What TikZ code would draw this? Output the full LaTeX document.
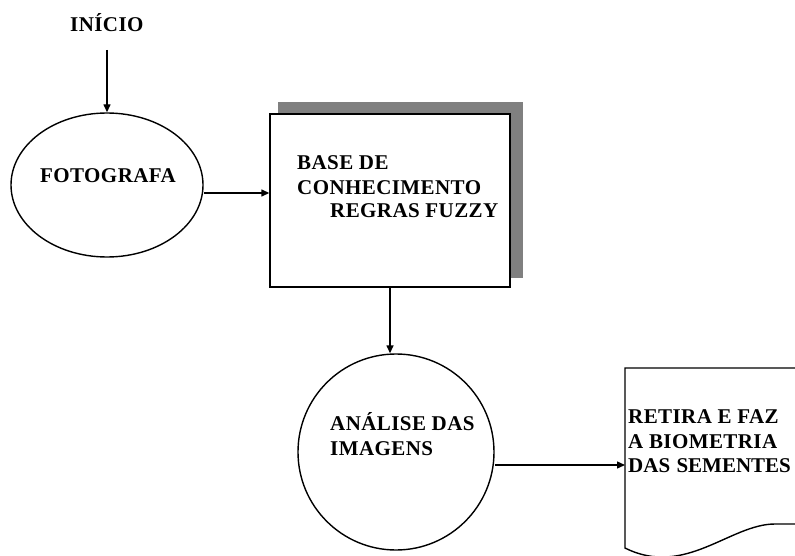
\documentclass[tikz,border=0pt]{standalone}
\usepackage{fontspec}
\setmainfont[LetterSpace=2]{Liberation Serif}
\usetikzlibrary{arrows.meta,shapes.geometric}
\begin{document}
\begin{tikzpicture}[x=1pt,y=-1pt,
  every node/.style={font=\bfseries\fontsize{21}{24}\selectfont},
  lbl/.style={anchor=base west,inner sep=0pt},
  shp/.style={draw=black,line width=1.4pt},
  conn/.style={line width=1.4pt,-{Triangle[length=8pt,width=7pt]}}]
\clip (0,0) rectangle (795,556);
\fill[white] (0,0) rectangle (795,556);
% start label
\node[lbl] (start) at (70,32) {INÍCIO};
% ellipse
\node[shp,ellipse,minimum width=192pt,minimum height=144pt,inner sep=0pt] (foto) at (107,185) {};
\node[lbl] (fototxt) at (40,183) {FOTOGRAFA};
% box with shadow
\fill[black!50] (278,102) rectangle (523,278);
\node[shp,fill=white,rectangle,minimum width=240pt,minimum height=173pt,inner sep=0pt] (base) at (390,200.5) {};
\node[lbl] (b1) at (297,170) {BASE DE};
\node[lbl] (b2) at (297,195) {CONHECIMENTO};
\node[lbl] (b3) at (330,218) {REGRAS FUZZY};
% circle
\node[shp,ellipse,minimum width=196pt,minimum height=196pt,inner sep=0pt] (analise) at (396,452) {};
\node[lbl] (a1) at (330,430) {ANÁLISE DAS};
\node[lbl] (a2) at (330,455) {IMAGENS};
% document shape
\draw[shp] (810,368) -- (625,368) -- (625,548)
  .. controls (685,578) and (730,524) .. (775,524) -- (810,524);
\coordinate (docin) at (625,465);
\node[lbl] (r1) at (628,423) {RETIRA E FAZ};
\node[lbl] (r2) at (628,448) {A BIOMETRIA};
\node[lbl] (r3) at (628,472) {\addfontfeature{LetterSpace=0}DAS\hspace{0.3em}SEMENTES};
% connectors
\draw[conn] (foto.north |- 0,50) -- (foto.north);
\draw[conn] ([yshift=-8pt]foto.east) -- ([yshift=-8pt]foto.east -| base.west);
\draw[conn] (base.south) -- (base.south |- analise.north);
\draw[conn] ([yshift=-13pt]analise.east) -- (docin);
\end{tikzpicture}
\end{document}
